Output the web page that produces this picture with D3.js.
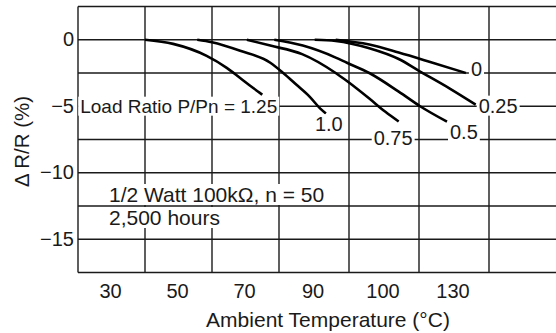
<!DOCTYPE html>
<html>
<head>
<meta charset="utf-8">
<script src="https://cdn.jsdelivr.net/npm/d3@7"></script>
<style>
  html, body { margin: 0; padding: 0; background: #fff; }
  svg { display: block; font-family: "Liberation Sans", Arial, Helvetica, sans-serif; }
</style>
</head>
<body>
<div id="chart"></div>
<script>
// x axis: the grid has 7 columns, the labelled ones hold these temperatures
const tempLabels = ['30', '50', '70', '90', '100', '130'];
const yTicks = [0, -5, -10, -15];
const yGrid = [0, -2.5, -5, -7.5, -10, -12.5, -15];

const ratioLabels = ['Load Ratio P/Pn = 1.25', '1.0', '0.75', '0.5', '0.25', '0'];

// curve points as [grid column, ΔR/R in %]
const curve125 = [[1.0, 0], [1.42, -0.31], [1.92, -1.21], [2.22, -2.11], [2.42, -2.88], [2.62, -3.65], [2.75, -4.13]];
const curve100 = [[1.78, 0], [2.0, -0.19], [2.42, -0.83], [2.87, -1.73], [3.06, -2.5], [3.25, -3.39], [3.44, -4.29], [3.59, -5.18], [3.67, -5.54]];
const curve075 = [[2.52, 0], [2.87, -0.44], [3.33, -1.08], [3.81, -2.5], [3.98, -3.14], [4.29, -4.42], [4.52, -5.42], [4.71, -6.15]];
const curve050 = [[2.93, 0], [3.34, -0.44], [3.81, -1.34], [3.97, -1.73], [4.29, -2.5], [4.71, -3.9], [5.01, -4.98], [5.4, -6.16]];
const curve025 = [[3.51, 0], [3.81, -0.09], [4.29, -0.64], [4.71, -1.45], [5.01, -2.37], [5.44, -3.67], [5.81, -4.88]];
const curve000 = [[3.81, 0], [4.29, -0.36], [4.71, -0.96], [5.16, -1.67], [5.67, -2.5]];
const curves = [curve125, curve100, curve075, curve050, curve025, curve000];

const noteLines = ['1/2 Watt 100k\u03A9, n = 50', '2,500 hours'];

const width = 556;
const height = 333;
const plotLeft = 78, plotTop = 6.5, plotBottom = 272.5;

// label placement relative to the curve end: [dx, dy, anchor, font size]
const labelPos = [
  [15, 18, 'end', 19],
  [-11, 18, 'start', 20],
  [-25, 23, 'start', 20],
  [3, 17, 'start', 20],
  [3, 8, 'start', 20],
  [5, 2.5, 'start', 20]
];

const svg = d3.select('#chart')
  .append('svg')
  .attr('width', width)
  .attr('height', height);

// columns are a touch wider on the right half of the grid
const x = d3.scaleLinear().domain([0, 3, 6, 7]).range([plotLeft, 279, 489, width]);
const y = d3.scaleLinear().domain([2.5, -17.5]).range([plotTop, plotBottom]);

const ink = '#1a1a1a';

const grid = svg.append('g')
  .attr('stroke', ink)
  .attr('stroke-width', 1.4)
  .attr('fill', 'none');

grid.selectAll('.h')
  .data([2.5, ...yGrid, -17.5])
  .enter()
  .append('line')
  .attr('x1', x(0))
  .attr('x2', x(7))
  .attr('y1', d => y(d))
  .attr('y2', d => y(d));

grid.selectAll('.v')
  .data(d3.range(0, 7))
  .enter()
  .append('line')
  .attr('x1', d => x(d))
  .attr('x2', d => x(d))
  .attr('y1', y(2.5))
  .attr('y2', y(-17.5));

// ticks
svg.append('g')
  .selectAll('text')
  .data(yTicks)
  .enter()
  .append('text')
  .attr('x', plotLeft - 4)
  .attr('y', d => y(d))
  .attr('dy', '0.33em')
  .attr('text-anchor', 'end')
  .style('font-size', '20px')
  .attr('fill', ink)
  .text(d => d === 0 ? '0' : '\u2212' + Math.abs(d));

svg.append('g')
  .selectAll('text')
  .data(tempLabels)
  .enter()
  .append('text')
  .attr('x', (d, i) => x(i + 0.5) - 1)
  .attr('y', 298)
  .attr('text-anchor', 'middle')
  .style('font-size', '20px')
  .attr('fill', ink)
  .text(d => d);

svg.append('text')
  .attr('x', 328)
  .attr('y', 327)
  .attr('text-anchor', 'middle')
  .style('font-size', '21px')
  .attr('fill', ink)
  .text('Ambient Temperature (\u00B0C)');

svg.append('text')
  .attr('transform', 'translate(29,141.5) rotate(-90)')
  .attr('text-anchor', 'middle')
  .style('font-size', '20.5px')
  .attr('fill', ink)
  .text('\u0394 R/R (%)');

// curves
const line = d3.line()
  .x(d => x(d[0]))
  .y(d => y(d[1]))
  .curve(d3.curveMonotoneX);

svg.append('g')
  .selectAll('path')
  .data(curves)
  .enter()
  .append('path')
  .attr('d', line)
  .attr('fill', 'none')
  .attr('stroke', '#000')
  .attr('stroke-width', 2.6);

// text with a white box behind it, so grid lines break around it
function boxedText(g, tx, ty, anchor, str, size) {
  const bg = g.append('rect').attr('fill', '#fff');
  const t = g.append('text')
    .attr('x', tx)
    .attr('y', ty)
    .attr('text-anchor', anchor)
    .style('font-size', size + 'px')
    .attr('fill', ink)
    .text(str);
  const b = t.node().getBBox();
  bg.attr('x', b.x - 2).attr('y', b.y + 1).attr('width', b.width + 4).attr('height', b.height - 2);
}

const labels = svg.append('g');
curves.forEach((c, i) => {
  const end = c[c.length - 1];
  const p = labelPos[i];
  boxedText(labels, x(end[0]) + p[0], y(end[1]) + p[1], p[2], ratioLabels[i], p[3]);
});

const note = svg.append('g');
noteLines.forEach((s, i) => {
  boxedText(note, 109, 202 + i * 23, 'start', s, 21);
});
</script>
</body>
</html>
